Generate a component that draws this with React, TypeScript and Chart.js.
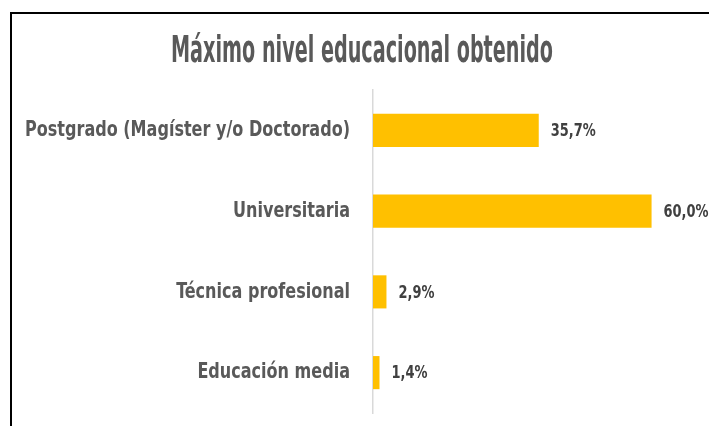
import React, { useEffect, useRef } from 'react';
import { Chart, registerables } from 'chart.js';

Chart.register(...registerables);

const titleText = 'Máximo nivel educacional obtenido';
const categories = [
  'Postgrado (Magíster y/o Doctorado)',
  'Universitaria',
  'Técnica profesional',
  'Educación media',
];
const values = [35.7, 60.0, 2.9, 1.4];
const xMin = 0;
const xMax = 70;

const FONT = "'DejaVu Sans Condensed', 'Liberation Sans Narrow', sans-serif";
const BAR_COLOR = '#FFC000';

const fmt = (v: number) => v.toFixed(1).replace('.', ',') + '%';

export default function App() {
  const ref = useRef<HTMLCanvasElement>(null);

  useEffect(() => {
    const canvas = ref.current;
    if (!canvas) return;

    const framePlugin = {
      id: 'frameAndTitle',
      beforeDraw(chart: any) {
        const ctx = chart.ctx as CanvasRenderingContext2D;
        ctx.save();
        ctx.fillStyle = '#ffffff';
        ctx.fillRect(0, 0, chart.width, chart.height);
        ctx.fillStyle = '#000000';
        ctx.fillRect(10, 12, chart.width - 10, 2);
        ctx.fillRect(10, 12, 2, chart.height - 12);
        ctx.font = `bold 38px ${FONT}`;
        const w = ctx.measureText(titleText).width;
        const sx = 382 / w;
        ctx.translate(362, 62);
        ctx.scale(sx, 1);
        ctx.fillStyle = '#595959';
        ctx.textAlign = 'center';
        ctx.textBaseline = 'alphabetic';
        ctx.fillText(titleText, 0, 0);
        ctx.restore();
      },
    };

    const labelPlugin = {
      id: 'labels',
      afterDatasetsDraw(chart: any) {
        const ctx = chart.ctx as CanvasRenderingContext2D;
        const yScale = chart.scales.y;
        const left = chart.chartArea.left;
        // category labels
        ctx.save();
        ctx.font = `bold 22px ${FONT}`;
        const sxCat = 325 / ctx.measureText(categories[0]).width;
        ctx.fillStyle = '#595959';
        ctx.textAlign = 'right';
        ctx.textBaseline = 'middle';
        categories.forEach((c, i) => {
          const y = yScale.getPixelForTick(i);
          ctx.save();
          ctx.translate(left - 23, y);
          ctx.scale(sxCat, 1);
          ctx.fillText(c, 0, 0);
          ctx.restore();
        });
        ctx.restore();

        // value labels
        const meta = chart.getDatasetMeta(0);
        ctx.save();
        ctx.font = `bold 18px ${FONT}`;
        const sxVal = 45 / ctx.measureText(fmt(35.7)).width;
        ctx.fillStyle = '#404040';
        ctx.textAlign = 'left';
        ctx.textBaseline = 'middle';
        meta.data.forEach((bar: any, i: number) => {
          ctx.save();
          ctx.translate(bar.x + 12, bar.y + 1);
          ctx.scale(sxVal, 1);
          ctx.fillText(fmt(values[i]), 0, 0);
          ctx.restore();
        });
        ctx.restore();
      },
    };

    const chart = new Chart(canvas, {
      type: 'bar',
      data: {
        labels: categories,
        datasets: [
          {
            data: values,
            backgroundColor: BAR_COLOR,
            borderWidth: 0,
            barPercentage: 0.41,
            categoryPercentage: 1.0,
          },
        ],
      },
      options: {
        indexAxis: 'y',
        responsive: false,
        animation: false,
        devicePixelRatio: 1,
        layout: { padding: { top: 90, bottom: 13, right: 11, left: 0 } },
        plugins: {
          legend: { display: false },
          title: { display: false },
          tooltip: { enabled: false },
        },
        scales: {
          x: {
            display: false,
            min: xMin,
            max: xMax,
          },
          y: {
            grid: { display: false, drawTicks: false },
            border: { display: true, color: '#D9D9D9', width: 1.5 },
            ticks: { display: false },
            afterFit: (scale: any) => {
              scale.width = 373;
              scale.paddingTop = 0;
              scale.paddingBottom = 0;
            },
          },
        },
      },
      plugins: [framePlugin, labelPlugin],
    });

    return () => chart.destroy();
  }, []);

  return (
    <canvas
      ref={ref}
      width={709}
      height={426}
      style={{ position: 'fixed', left: 0, top: 0, width: 709, height: 426, display: 'block' }}
    />
  );
}
